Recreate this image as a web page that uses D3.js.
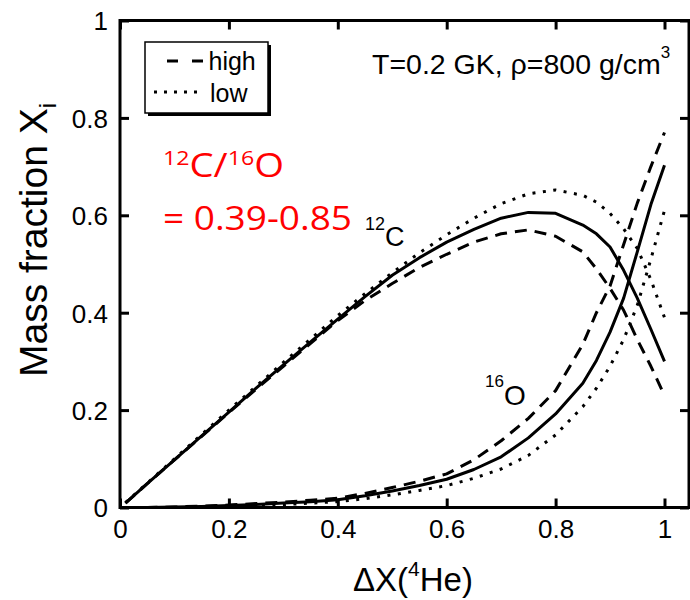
<!DOCTYPE html>
<html>
<head>
<meta charset="utf-8">
<script src="https://cdn.jsdelivr.net/npm/d3@7"></script>
<style>
  body { margin: 0; background: #fff; }
  svg { display: block; }
</style>
</head>
<body>
<svg id="chart" width="690" height="600"></svg>
<script>
// Helium burnt fraction, ΔX(4He)
const xValues = [0.01, 0.05, 0.1, 0.15, 0.2, 0.25, 0.3, 0.35, 0.4, 0.45, 0.5, 0.55,
                 0.6, 0.65, 0.7, 0.75, 0.8, 0.85, 0.875, 0.9, 0.925, 0.95, 0.975, 1.0];

// 12C mass fraction: recommended (solid), high and low 12C(α,γ) rates
const c12Mid  = [0.009, 0.049, 0.098, 0.147, 0.196, 0.245, 0.293, 0.340, 0.387, 0.433, 0.477, 0.513,
                 0.545, 0.571, 0.594, 0.606, 0.604, 0.580, 0.562, 0.535, 0.487, 0.430, 0.366, 0.300];
const c12High = [0.009, 0.049, 0.098, 0.146, 0.195, 0.243, 0.290, 0.337, 0.384, 0.425, 0.460, 0.493,
                 0.520, 0.545, 0.562, 0.570, 0.557, 0.525, 0.490, 0.450, 0.405, 0.345, 0.290, 0.230];
const c12Low  = [0.010, 0.050, 0.100, 0.150, 0.200, 0.249, 0.298, 0.346, 0.394, 0.439, 0.482, 0.523,
                 0.560, 0.594, 0.624, 0.644, 0.652, 0.641, 0.627, 0.604, 0.572, 0.532, 0.468, 0.390];

// 16O mass fraction
const o16Mid  = [0.000, 0.000, 0.001, 0.002, 0.004, 0.006, 0.009, 0.012, 0.016, 0.024, 0.034, 0.045,
                 0.058, 0.078, 0.104, 0.143, 0.192, 0.255, 0.302, 0.360, 0.430, 0.525, 0.622, 0.703];
const o16High = [0.000, 0.000, 0.001, 0.003, 0.005, 0.008, 0.011, 0.015, 0.019, 0.029, 0.041, 0.054,
                 0.069, 0.098, 0.137, 0.183, 0.240, 0.335, 0.400, 0.455, 0.540, 0.625, 0.700, 0.770];
const o16Low  = [0.000, 0.000, 0.000, 0.001, 0.002, 0.004, 0.006, 0.009, 0.012, 0.018, 0.026, 0.035,
                 0.045, 0.060, 0.079, 0.107, 0.149, 0.207, 0.245, 0.290, 0.345, 0.415, 0.510, 0.610];

const xTicks = [0, 0.2, 0.4, 0.6, 0.8, 1];
const xTickLabels = ["0", "0.2", "0.4", "0.6", "0.8", "1"];
const yTicks = [0, 0.2, 0.4, 0.6, 0.8, 1];
const yTickLabels = ["0", "0.2", "0.4", "0.6", "0.8", "1"];

const legendLabels = ["high", "low"];

const FONT = "'Liberation Sans', Arial, Helvetica, sans-serif";
const RED_FONT = "'Open Sans', 'Noto Sans', sans-serif";

const svg = d3.select("#chart");
const plot = { left: 120, right: 689, top: 20.5, bottom: 507.5 };

const x = d3.scaleLinear().domain([0, 1.045]).range([plot.left, plot.right]);
const y = d3.scaleLinear().domain([0, 1]).range([plot.bottom, plot.top]);

const DASH = "12,8";
const DOT = "3,7.5";

const series = [
  { values: c12Mid,  dash: null },
  { values: c12High, dash: DASH },
  { values: c12Low,  dash: DOT },
  { values: o16Mid,  dash: null },
  { values: o16High, dash: DASH },
  { values: o16Low,  dash: DOT }
];

svg.append("defs").append("clipPath").attr("id", "plotClip")
  .append("rect")
  .attr("x", plot.left).attr("y", plot.top)
  .attr("width", plot.right - plot.left).attr("height", plot.bottom - plot.top);

const line = d3.line().x(d => x(d[0])).y(d => y(d[1]));

svg.append("g").attr("clip-path", "url(#plotClip)")
  .selectAll("path")
  .data(series)
  .join("path")
  .attr("d", s => line(xValues.map((xv, i) => [xv, s.values[i]])))
  .attr("fill", "none")
  .attr("stroke", "#000")
  .attr("stroke-width", 3)
  .attr("stroke-linejoin", "round")
  .attr("stroke-dasharray", s => s.dash);

// Axes: ticks point inward on all four sides
function styleAxis(g) {
  g.select(".domain").remove();
  g.selectAll(".tick line").attr("stroke", "#000").attr("stroke-width", 3);
  g.selectAll(".tick text")
    .attr("fill", "#000")
    .style("font-family", FONT)
    .style("font-size", "26px");
}

const gx = svg.append("g")
  .attr("transform", `translate(0,${plot.bottom})`)
  .call(d3.axisBottom(x).tickValues(xTicks).tickFormat((d, i) => xTickLabels[i])
    .tickSizeInner(-9).tickSizeOuter(0))
  .call(styleAxis);
gx.selectAll(".tick text").attr("y", 30).attr("dy", null);

svg.append("g")
  .attr("transform", `translate(0,${plot.top})`)
  .call(d3.axisTop(x).tickValues(xTicks).tickFormat("").tickSizeInner(-9).tickSizeOuter(0))
  .call(styleAxis);

const gy = svg.append("g")
  .attr("transform", `translate(${plot.left},0)`)
  .call(d3.axisLeft(y).tickValues(yTicks).tickFormat((d, i) => yTickLabels[i])
    .tickSizeInner(-9).tickSizeOuter(0))
  .call(styleAxis);
gy.selectAll(".tick text").attr("x", -12).attr("dy", "0.36em");

svg.append("g")
  .attr("transform", `translate(${plot.right},0)`)
  .call(d3.axisRight(y).tickValues(yTicks).tickFormat("").tickSizeInner(-9).tickSizeOuter(0))
  .call(styleAxis);

// Frame
svg.append("rect")
  .attr("x", plot.left).attr("y", plot.top)
  .attr("width", plot.right - plot.left).attr("height", plot.bottom - plot.top)
  .attr("fill", "none").attr("stroke", "#000").attr("stroke-width", 3);

// Axis titles
const xTitle = svg.append("text")
  .attr("x", 413).attr("y", 591)
  .attr("text-anchor", "middle")
  .style("font-family", FONT).style("font-size", "33px");
xTitle.append("tspan").text("ΔX(");
xTitle.append("tspan").attr("dy", -15).style("font-size", "21px").text("4");
xTitle.append("tspan").attr("dy", 15).text("He)");

const yTitle = svg.append("text")
  .attr("transform", "translate(47,240) rotate(-90)")
  .attr("text-anchor", "middle")
  .style("font-family", FONT).style("font-size", "39px");
yTitle.append("tspan").text("Mass fraction X");
yTitle.append("tspan").attr("dy", 9).style("font-size", "24px").text("i");

// Legend box with drop shadow
const lg = svg.append("g");
lg.append("rect").attr("x", 148).attr("y", 45).attr("width", 123).attr("height", 71).attr("fill", "#000");
lg.append("rect").attr("x", 145).attr("y", 42).attr("width", 123).attr("height", 71)
  .attr("fill", "#fff").attr("stroke", "#000").attr("stroke-width", 1.5);
lg.append("line").attr("x1", 167).attr("x2", 204).attr("y1", 61).attr("y2", 61)
  .attr("stroke", "#000").attr("stroke-width", 3).attr("stroke-dasharray", "11,14");
lg.append("line").attr("x1", 154).attr("x2", 198).attr("y1", 92).attr("y2", 92)
  .attr("stroke", "#000").attr("stroke-width", 3).attr("stroke-dasharray", "3,7");
lg.append("text").attr("x", 208.5).attr("y", 69.5)
  .style("font-family", FONT).style("font-size", "25px").text(legendLabels[0]);
lg.append("text").attr("x", 210).attr("y", 102)
  .style("font-family", FONT).style("font-size", "25px").text(legendLabels[1]);

// Conditions
const cond = svg.append("text").attr("x", 372).attr("y", 74.3)
  .style("font-family", FONT).style("font-size", "28.5px");
cond.append("tspan").text("T=0.2 GK, ρ=800 g/cm");
cond.append("tspan").attr("dy", -16).style("font-size", "17px").text("3");

// Curve labels
const lc = svg.append("text").attr("x", 365).attr("y", 246)
  .style("font-family", FONT).style("font-size", "27px");
lc.append("tspan").attr("dy", -16).style("font-size", "18px").text("12");
lc.append("tspan").attr("dy", 16).text("C");

const lo = svg.append("text").attr("x", 485).attr("y", 405)
  .style("font-family", FONT).style("font-size", "28px");
lo.append("tspan").attr("dy", -18).style("font-size", "17px").text("16");
lo.append("tspan").attr("dy", 18).text("O");

// Red ratio annotation, stretched to its box width
function fitText(g, left, right) {
  const bb = g.node().getBBox();
  const s = (right - left) / bb.width;
  g.attr("transform", `translate(${left - bb.x * s},0) scale(${s},1)`);
}
const r1g = svg.append("g");
const r1 = r1g.append("text").attr("x", 0).attr("y", 176.7)
  .attr("fill", "#ff0000").style("font-family", RED_FONT).style("font-size", "33px");
r1.append("tspan").attr("dy", -12).style("font-size", "20px").text("12");
r1.append("tspan").attr("dy", 12).text("C/");
r1.append("tspan").attr("dy", -12).style("font-size", "20px").text("16");
r1.append("tspan").attr("dy", 12).text("O");
fitText(r1g, 163, 284);

const r2g = svg.append("g");
r2g.append("text").attr("x", 0).attr("y", 230)
  .attr("fill", "#ff0000").style("font-family", RED_FONT).style("font-size", "33px")
  .text("= 0.39-0.85");
fitText(r2g, 163, 352);
</script>
</body>
</html>
